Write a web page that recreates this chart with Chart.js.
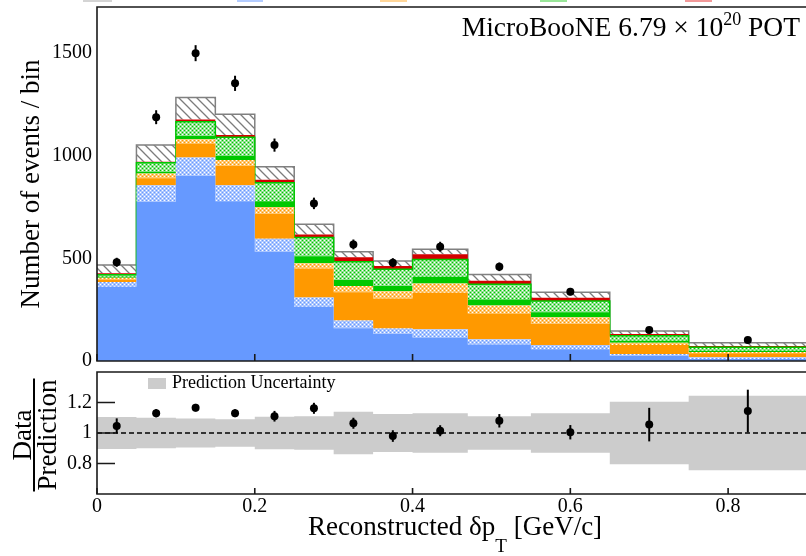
<!DOCTYPE html>
<html>
<head>
<meta charset="utf-8">
<script src="https://cdn.jsdelivr.net/npm/chart.js@4.4.1/dist/chart.umd.min.js"></script>
<style>
  html, body { margin: 0; padding: 0; background: #fff; overflow: hidden; }
  .wrap { position: relative; width: 806px; height: 556px; overflow: hidden; }
  canvas { position: absolute; left: 0; top: 0; }
</style>
</head>
<body>
<div class="wrap">
  <canvas id="main" width="811" height="556"></canvas>
  <canvas id="ratio" width="811" height="556"></canvas>
</div>
<script>
// bin edges of reconstructed delta pT [GeV/c]
const binEdges = [0, 0.05, 0.1, 0.15, 0.2, 0.25, 0.3, 0.35, 0.4, 0.47, 0.55, 0.65, 0.75, 0.9];

// stacked prediction, bottom to top (events / bin)
const blueSolid   = [362, 776, 901, 779, 532, 264, 159, 131, 115, 81, 57, 25, 10];
const blueHatch   = [23, 80, 91, 78, 64, 45, 38, 27, 40, 25, 21, 9, 8];
const orangeSolid = [12, 34, 68, 93, 120, 142, 138, 147, 178, 126, 102, 44, 20];
const orangeHatch = [9, 24, 21, 29, 34, 25, 30, 35, 45, 38, 33, 11, 6];
const greenSolid  = [4, 8, 15, 21, 29, 35, 30, 25, 33, 30, 24, 10, 6];
const greenHatch  = [10, 44, 70, 90, 90, 91, 89, 82, 84, 74, 55, 24, 17];
const redBand     = [7, 5, 11, 11, 14, 15, 21, 16, 25, 17, 16, 8, 6];
const grayHatch   = [41, 81, 107, 101, 63, 49, 27, 24, 24, 31, 27, 15, 16];

// data
const dataCounts = [481, 1188, 1500, 1353, 1052, 768, 568, 479, 557, 459, 338, 151, 102];
const dataErr    = [22, 34, 39, 37, 32, 28, 24, 22, 24, 21, 18, 12, 10];

// ratio panel
const ratioVals = [1.046, 1.13, 1.166, 1.13, 1.11, 1.162, 1.064, 0.98, 1.015, 1.08, 1.005, 1.055, 1.144];
const ratioErr  = [0.05, 0.027, 0.025, 0.026, 0.035, 0.036, 0.036, 0.038, 0.036, 0.044, 0.047, 0.11, 0.14];
const predUnc   = [0.105, 0.1, 0.095, 0.09, 0.107, 0.11, 0.14, 0.125, 0.13, 0.11, 0.13, 0.205, 0.245];

const xTicks = [0, 0.2, 0.4, 0.6, 0.8];
const yTicksMain = [0, 500, 1000, 1500];
const yTicksRatio = [0.8, 1, 1.2];

const SERIF = '"Liberation Serif", "Times New Roman", serif';
const cBlue = '#6699ff', cOrange = '#ff9900', cGreen = '#00c800', cRed = '#d40000', cBand = '#cccccc';

// pale tint of the base colour with a fine grid of white dots (ROOT-style dotted fill)
function dotPattern(base, tint) {
  const c = document.createElement('canvas');
  c.width = 4; c.height = 4;
  const g = c.getContext('2d');
  g.fillStyle = tint; g.fillRect(0, 0, 4, 4);
  g.fillStyle = '#ffffff';
  g.fillRect(0, 0, 1, 1); g.fillRect(2, 2, 1, 1);
  g.fillStyle = base;
  g.fillRect(2, 0, 1, 1); g.fillRect(0, 2, 1, 1);
  return g.createPattern(c, 'repeat');
}

function diagPattern() {
  const s = 9;
  const c = document.createElement('canvas');
  c.width = s; c.height = s;
  const g = c.getContext('2d');
  g.fillStyle = '#fff'; g.fillRect(0, 0, s, s);
  g.strokeStyle = '#7c7c7c'; g.lineWidth = 1.3;
  g.beginPath();
  g.moveTo(0, 0); g.lineTo(s, s);
  g.moveTo(-2, s - 2); g.lineTo(2, s + 2);
  g.moveTo(s - 2, -2); g.lineTo(s + 2, 2);
  g.stroke();
  return g.createPattern(c, 'repeat');
}

function steps(vals) {
  const pts = vals.map((v, i) => ({ x: binEdges[i], y: v }));
  pts.push({ x: binEdges[binEdges.length - 1], y: vals[vals.length - 1] });
  return pts;
}

const centers = binEdges.slice(0, -1).map((e, i) => (e + binEdges[i + 1]) / 2);

const layers = [
  { vals: blueSolid, fill: cBlue },
  { vals: blueHatch, fill: dotPattern(cBlue, '#abc6ff') },
  { vals: orangeSolid, fill: cOrange },
  { vals: orangeHatch, fill: dotPattern(cOrange, '#ffc770') },
  { vals: greenSolid, fill: cGreen },
  { vals: greenHatch, fill: dotPattern(cGreen, '#8ee28e'), line: cGreen },
  { vals: redBand, fill: cRed },
  { vals: grayHatch, fill: diagPattern(), line: '#808080' }
];

let running = blueSolid.map(() => 0);
const stackSets = layers.map((l, k) => {
  running = running.map((r, i) => r + l.vals[i]);
  return {
    data: steps(running),
    stepped: 'before',
    fill: k === 0 ? 'origin' : '-1',
    backgroundColor: l.fill,
    borderColor: l.line || 'rgba(0,0,0,0)',
    borderWidth: l.line ? 1.5 : 0,
    pointRadius: 0
  };
});

// error bars drawn through the y scale
const errorBars = {
  id: 'errorBars',
  afterDatasetsDraw(chart) {
    const ctx = chart.ctx, ys = chart.scales.y;
    chart.data.datasets.forEach((ds, i) => {
      if (!ds.errors) return;
      const meta = chart.getDatasetMeta(i);
      ctx.save();
      ctx.strokeStyle = '#000'; ctx.lineWidth = 2;
      meta.data.forEach((pt, j) => {
        const v = ds.data[j].y, e = ds.errors[j];
        ctx.beginPath();
        ctx.moveTo(pt.x, ys.getPixelForValue(v - e));
        ctx.lineTo(pt.x, ys.getPixelForValue(v + e));
        ctx.stroke();
      });
      ctx.restore();
    });
  }
};

// ROOT-like frame with ticks pointing inside
const frame = {
  id: 'frame',
  afterDatasetsDraw(chart, args, o) {
    const { ctx, chartArea: a, scales } = chart;
    ctx.save();
    ctx.strokeStyle = '#1a1a1a'; ctx.lineWidth = 1.6;
    ctx.beginPath();
    o.xTicks.forEach(v => {
      const px = scales.x.getPixelForValue(v);
      ctx.moveTo(px, a.bottom); ctx.lineTo(px, a.bottom - o.xLen);
    });
    (o.yTicks || []).forEach(v => {
      const py = scales.y.getPixelForValue(v);
      ctx.moveTo(a.left, py); ctx.lineTo(a.left + o.yLen, py);
    });
    ctx.stroke();
    ctx.beginPath();
    ctx.rect(a.left, a.top, a.right - a.left, a.bottom - a.top);
    ctx.stroke();
    ctx.restore();
  }
};

const mainText = {
  id: 'mainText',
  afterDraw(chart) {
    const ctx = chart.ctx;
    ctx.save();
    ctx.fillStyle = '#000';
    // y title
    ctx.font = '27px ' + SERIF;
    ctx.textAlign = 'center'; ctx.textBaseline = 'alphabetic';
    ctx.save();
    ctx.translate(39, 184); ctx.rotate(-Math.PI / 2);
    ctx.fillText('Number of events / bin', 0, 0);
    ctx.restore();
    // exposure label
    ctx.textAlign = 'left';
    const right = 800, base = 36;
    ctx.font = '27.5px ' + SERIF;
    const txt1 = 'MicroBooNE 6.79 \u00d7 10', txt2 = ' POT';
    const w1 = ctx.measureText(txt1).width, w2 = ctx.measureText(txt2).width;
    ctx.font = '18px ' + SERIF;
    const ws = ctx.measureText('20').width;
    const x0 = right - w1 - ws - w2;
    ctx.font = '27.5px ' + SERIF;
    ctx.fillText(txt1, x0, base);
    ctx.fillText(txt2, x0 + w1 + ws, base);
    ctx.font = '18px ' + SERIF;
    ctx.fillText('20', x0 + w1, base - 11);
    // cut-off legend swatches at the very top
    [[83, 29, '#d4d4d4'], [237, 26, '#b3ccff'], [380, 27, '#ffd699'], [540, 27, '#99e699'], [685, 27, '#f29999']]
      .forEach(([x, w, c]) => { ctx.fillStyle = c; ctx.fillRect(x, 0, w, 2); });
    ctx.restore();
  }
};

const ratioText = {
  id: 'ratioText',
  afterDraw(chart) {
    const ctx = chart.ctx;
    ctx.save();
    ctx.fillStyle = '#000';
    // Data / Prediction
    ctx.font = '27px ' + SERIF;
    ctx.textAlign = 'center'; ctx.textBaseline = 'alphabetic';
    const wp = ctx.measureText('Prediction').width;
    ctx.save();
    ctx.translate(31, 435); ctx.rotate(-Math.PI / 2);
    ctx.fillText('Data', 0, 0);
    ctx.restore();
    ctx.save();
    ctx.translate(56, 435); ctx.rotate(-Math.PI / 2);
    ctx.fillText('Prediction', 0, 0);
    ctx.restore();
    ctx.fillRect(33, 435 - wp / 2 - 1, 2, wp + 2);
    // legend
    ctx.fillStyle = cBand;
    ctx.fillRect(148, 378, 18, 11);
    ctx.fillStyle = '#000';
    ctx.font = '18px ' + SERIF;
    ctx.textAlign = 'left';
    ctx.fillText('Prediction Uncertainty', 172, 388);
    // x title with subscript
    ctx.font = '27px ' + SERIF;
    const a = 'Reconstructed \u03b4p', b = ' [GeV/c]';
    const wa = ctx.measureText(a).width, wb = ctx.measureText(b).width;
    ctx.font = '19px ' + SERIF;
    const wt = ctx.measureText('T').width;
    const x0 = 455 - (wa + wt + wb) / 2;
    ctx.font = '27px ' + SERIF;
    ctx.fillText(a, x0, 535);
    ctx.fillText(b, x0 + wa + wt, 535);
    ctx.font = '19px ' + SERIF;
    ctx.fillText('T', x0 + wa, 552);
    ctx.restore();
  }
};

new Chart(document.getElementById('main'), {
  type: 'line',
  data: {
    datasets: [
      ...stackSets,
      {
        data: centers.map((x, i) => ({ x, y: dataCounts[i] })),
        errors: dataErr,
        showLine: false,
        pointRadius: 4,
        pointBackgroundColor: '#000',
        pointBorderWidth: 0,
        order: -1
      }
    ]
  },
  options: {
    responsive: false,
    animation: false,
    devicePixelRatio: 1,
    layout: { padding: { top: 7, left: 0, right: 0, bottom: 0 } },
    plugins: {
      legend: { display: false },
      tooltip: { enabled: false },
      frame: { xTicks, xLen: 7 }
    },
    scales: {
      x: {
        type: 'linear', min: 0, max: 0.9,
        ticks: { display: false },
        grid: { display: false, drawTicks: false },
        border: { display: false },
        afterFit(a) { a.height = 195; a.paddingLeft = 0; a.paddingRight = 0; }
      },
      y: {
        min: 0, max: 1725,
        afterBuildTicks(a) { a.ticks = yTicksMain.map(v => ({ value: v })); },
        ticks: { font: { family: SERIF, size: 20 }, color: '#000', padding: 5, callback: v => String(v) },
        grid: { display: false, drawTicks: false },
        border: { display: false },
        afterFit(a) { a.width = 97; a.paddingTop = 0; a.paddingBottom = 0; }
      }
    }
  },
  plugins: [errorBars, frame, mainText]
});

const xEnd = binEdges[binEdges.length - 1];
new Chart(document.getElementById('ratio'), {
  type: 'line',
  data: {
    datasets: [
      {
        data: steps(predUnc.map(u => 1 - u)),
        stepped: 'before', fill: false, borderWidth: 0, pointRadius: 0
      },
      {
        data: steps(predUnc.map(u => 1 + u)),
        stepped: 'before', fill: '-1', backgroundColor: cBand, borderWidth: 0, pointRadius: 0
      },
      {
        data: [{ x: 0, y: 1 }, { x: xEnd, y: 1 }],
        borderColor: '#000', borderWidth: 1.4, borderDash: [5, 3], pointRadius: 0, fill: false, order: -1
      },
      {
        data: centers.map((x, i) => ({ x, y: ratioVals[i] })),
        errors: ratioErr,
        showLine: false,
        pointRadius: 4,
        pointBackgroundColor: '#000',
        pointBorderWidth: 0,
        order: -2
      }
    ]
  },
  options: {
    responsive: false,
    animation: false,
    devicePixelRatio: 1,
    layout: { padding: { top: 372, left: 0, right: 0, bottom: 0 } },
    plugins: {
      legend: { display: false },
      tooltip: { enabled: false },
      frame: { xTicks, xLen: 6, yTicks: yTicksRatio, yLen: 18 }
    },
    scales: {
      x: {
        type: 'linear', min: 0, max: xEnd,
        afterBuildTicks(a) { a.ticks = xTicks.map(v => ({ value: v })); },
        ticks: { font: { family: SERIF, size: 20 }, color: '#000', padding: 1, maxRotation: 0, autoSkip: false, callback: v => String(v) },
        grid: { display: false, drawTicks: false },
        border: { display: false },
        afterFit(a) { a.height = 62; a.paddingLeft = 0; a.paddingRight = 0; }
      },
      y: {
        min: 0.6, max: 1.4,
        afterBuildTicks(a) { a.ticks = yTicksRatio.map(v => ({ value: v })); },
        ticks: { font: { family: SERIF, size: 20 }, color: '#000', padding: 5, callback: v => String(v) },
        grid: { display: false, drawTicks: false },
        border: { display: false },
        afterFit(a) { a.width = 97; a.paddingTop = 0; a.paddingBottom = 0; }
      }
    }
  },
  plugins: [errorBars, frame, ratioText]
});
</script>
</body>
</html>
